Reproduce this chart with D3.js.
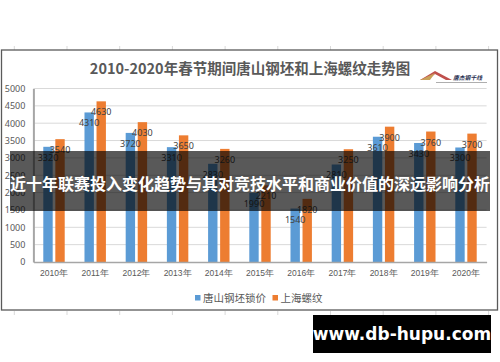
<!DOCTYPE html>
<html><head><meta charset="utf-8">
<script src="https://cdn.jsdelivr.net/npm/d3@7"></script>
<style>
html,body{margin:0;padding:0;background:#fff;}
svg{display:block;font-family:"Noto Sans CJK SC","Noto Sans",sans-serif;}
</style></head>
<body>
<script>
const categories = ["2010年","2011年","2012年","2013年","2014年","2015年","2016年","2017年","2018年","2019年","2020年"];
const seriesNames = ["唐山钢坯锁价","上海螺纹"];
const tangshan = [3320,4310,3720,3310,2830,1990,1540,2810,3610,3430,3300];
const shanghai = [3540,4630,4030,3650,3260,2210,1820,3250,3900,3760,3700];
const yTicks = [0,500,1000,1500,2000,2500,3000,3500,4000,4500,5000];
const colors = ["#5b9bd5","#ed7d31"];
const title = "2010-2020年春节期间唐山钢坯和上海螺纹走势图";
const overlayText = "近十年联赛投入变化趋势与其对竞技水平和商业价值的深远影响分析";
const watermark = "www.db-hupu.com";

const W = 500, H = 362;
const svg = d3.select("body").append("svg").attr("width", W).attr("height", H);

// faint spreadsheet ticks outside frame
const colX = d3.range(10).map(i => 14.3 + i * 52.7);
svg.selectAll("line.cellt").data(colX).enter().append("line")
  .attr("x1", d => d).attr("x2", d => d).attr("y1", 46).attr("y2", 50)
  .attr("stroke", "#d9d9d9").attr("stroke-width", 1);
svg.selectAll("line.cellb").data(colX).enter().append("line")
  .attr("x1", d => d).attr("x2", d => d).attr("y1", 311).attr("y2", 315)
  .attr("stroke", "#d9d9d9").attr("stroke-width", 1);

// chart frame
svg.append("rect").attr("x", 1.5).attr("y", 50).attr("width", 496).attr("height", 260)
  .attr("fill", "#fff").attr("stroke", "#5a5a5a").attr("stroke-width", 1.3);

// title
svg.append("text").attr("x", 250).attr("y", 74).attr("text-anchor", "middle")
  .attr("font-size", 14.5).attr("font-weight", "bold").attr("fill", "#595959").text(title);

// logo
const logo = svg.append("g");
logo.append("path").attr("d", "M420,80 L435,71 L452,80 L446,80 L435,74 L428,80 Z").attr("fill", "#c0504d");
logo.append("path").attr("d", "M420,80 L435,73 L430,80 Z").attr("fill", "#c9a15a");
logo.append("text").attr("x", 453).attr("y", 80).attr("font-size", 5.8).attr("font-weight", "bold")
  .attr("font-style", "italic").attr("fill", "#1f2d50").text("唐杰钢千线");
logo.append("line").attr("x1", 436).attr("x2", 487).attr("y1", 82.5).attr("y2", 82.5)
  .attr("stroke", "#777").attr("stroke-width", 0.6);

// scales
const x0 = d3.scaleBand().domain(categories).range([33.4, 486.6]).paddingInner(0.48).paddingOuter(0.24);
const x1 = d3.scaleBand().domain(seriesNames).range([0, x0.bandwidth()]).paddingInner(0.22);
const y = d3.scaleLinear().domain([0, 5000]).range([262, 88.5]);

// gridlines
svg.append("g").selectAll("line").data(yTicks.slice(1)).enter().append("line")
  .attr("x1", 33.4).attr("x2", 486.6).attr("y1", d => y(d)).attr("y2", d => y(d))
  .attr("stroke", "#d9d9d9").attr("stroke-width", 1);

// y axis
const yAxis = svg.append("g").attr("transform", "translate(33.4,0)")
  .call(d3.axisLeft(y).tickValues(yTicks).tickFormat(d3.format("d")).tickSize(0).tickPadding(8));
yAxis.select(".domain").attr("stroke", "#a6a6a6").attr("stroke-width", 2);
yAxis.selectAll("text").attr("font-size", 9).attr("fill", "#595959")
  .attr("font-family", "\"Noto Sans\",sans-serif");

// bars
const data = categories.map((c, i) => ({cat: c, vals: [tangshan[i], shanghai[i]]}));
const groups = svg.append("g").selectAll("g").data(data).enter().append("g")
  .attr("transform", d => `translate(${x0(d.cat)},0)`);
groups.selectAll("rect").data(d => d.vals.map((v, j) => ({s: seriesNames[j], v, j}))).enter()
  .append("rect")
  .attr("x", d => x1(d.s)).attr("width", x1.bandwidth())
  .attr("y", d => y(d.v)).attr("height", d => y(0) - y(d.v))
  .attr("fill", d => colors[d.j]);

// labels
groups.selectAll("text").data(d => d.vals.map((v, j) => ({s: seriesNames[j], v, j}))).enter()
  .append("text")
  .attr("x", d => x1(d.s) + x1.bandwidth() / 2).attr("y", d => y(d.v) + 14)
  .attr("text-anchor", "middle").attr("font-size", 9).attr("fill", "#404040")
  .attr("font-family", "\"Noto Sans\",sans-serif")
  .text(d => d.v);

// x axis
const xAxis = svg.append("g").attr("transform", "translate(0,262)")
  .call(d3.axisBottom(x0).tickSize(0).tickPadding(8));
xAxis.select(".domain").attr("stroke", "#a6a6a6").attr("stroke-width", 1.5);
xAxis.selectAll("text").attr("font-size", 8.5).attr("fill", "#595959");

// legend
const legend = svg.append("g");
const legX = [195, 272.5];
seriesNames.forEach((n, i) => {
  legend.append("rect").attr("x", legX[i]).attr("y", 295).attr("width", 5.5).attr("height", 5.5).attr("fill", colors[i]);
  legend.append("text").attr("x", legX[i] + 8).attr("y", 302).attr("font-size", 10.5).attr("fill", "#595959").text(n);
});

// overlay band
svg.append("rect").attr("x", 10).attr("y", 151).attr("width", 480).attr("height", 60)
  .attr("fill", "#000").attr("fill-opacity", 0.65);
svg.append("text").attr("x", 250).attr("y", 190).attr("text-anchor", "middle")
  .attr("font-size", 16).attr("font-weight", "bold").attr("fill", "#fff").text(overlayText);

// watermark
svg.append("rect").attr("x", 313).attr("y", 315).attr("width", 178).attr("height", 38).attr("fill", "#000");
svg.append("text").attr("x", 402).attr("y", 340).attr("text-anchor", "middle")
  .attr("font-size", 17).attr("font-weight", "bold").attr("fill", "#fff")
  .attr("font-family", "\"DejaVu Sans\",sans-serif").text(watermark);
</script>
</body></html>
